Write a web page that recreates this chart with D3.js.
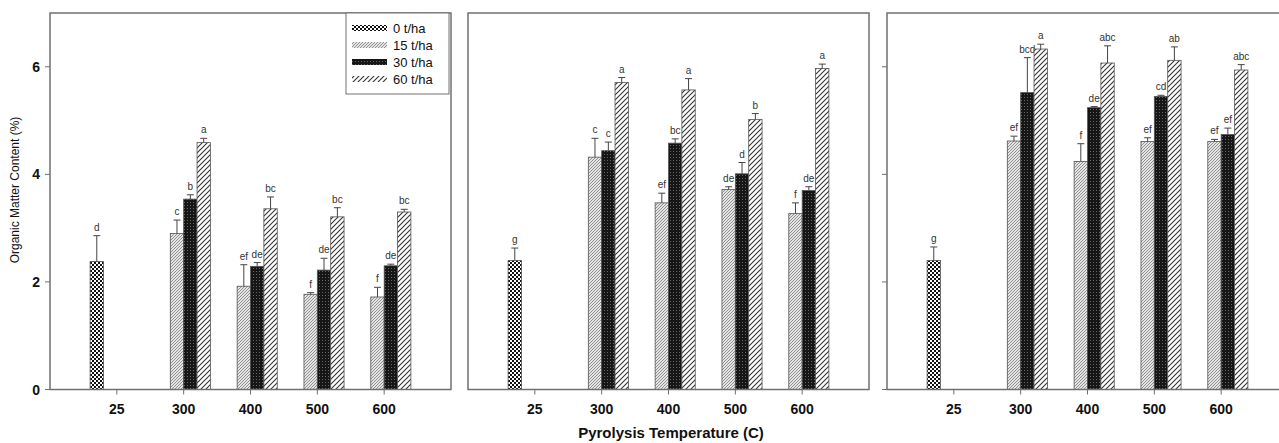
<!DOCTYPE html>
<html>
<head>
<meta charset="utf-8">
<script src="https://cdn.jsdelivr.net/npm/d3@7"></script>
<style>
  body { margin: 0; background: #fff; }
  svg { display: block; font-family: "Liberation Sans", Arial, sans-serif; }
</style>
</head>
<body>
<svg id="chart" width="1279" height="443"></svg>
<script>
// categories
const temps = ["25", "300", "400", "500", "600"];
const rates = ["0 t/ha", "15 t/ha", "30 t/ha", "60 t/ha"];
const yTicks = [0, 2, 4, 6];

// means per temperature, one entry per rate (null = no bar)
const meanA = [[2.38, null, null, null], [null, 2.90, 3.54, 4.59], [null, 1.92, 2.29, 3.36], [null, 1.77, 2.22, 3.21], [null, 1.72, 2.30, 3.30]];
const errA  = [[0.48, 0, 0, 0], [0, 0.25, 0.08, 0.08], [0, 0.40, 0.07, 0.22], [0, 0.03, 0.22, 0.17], [0, 0.18, 0.03, 0.05]];
const letA  = [["d"], [null, "c", "b", "a"], [null, "ef", "de", "bc"], [null, "f", "de", "bc"], [null, "f", "de", "bc"]];

const meanB = [[2.40, null, null, null], [null, 4.32, 4.44, 5.71], [null, 3.47, 4.58, 5.57], [null, 3.72, 4.01, 5.02], [null, 3.27, 3.70, 5.97]];
const errB  = [[0.23, 0, 0, 0], [0, 0.35, 0.16, 0.09], [0, 0.18, 0.08, 0.21], [0, 0.05, 0.21, 0.11], [0, 0.20, 0.07, 0.08]];
const letB  = [["g"], [null, "c", "c", "a"], [null, "ef", "bc", "a"], [null, "de", "d", "b"], [null, "f", "de", "a"]];

const meanC = [[2.40, null, null, null], [null, 4.62, 5.52, 6.33], [null, 4.24, 5.24, 6.07], [null, 4.61, 5.45, 6.12], [null, 4.61, 4.74, 5.94]];
const errC  = [[0.25, 0, 0, 0], [0, 0.09, 0.65, 0.09], [0, 0.33, 0.02, 0.32], [0, 0.07, 0.02, 0.25], [0, 0.04, 0.12, 0.10]];
const letC  = [["g"], [null, "ef", "bcd", "a"], [null, "f", "de", "abc"], [null, "ef", "cd", "ab"], [null, "ef", "ef", "abc"]];

const panels = [
  { left: 50, means: meanA, errs: errA, lets: letA, yTicks: true, yLabels: true, legend: true },
  { left: 468, means: meanB, errs: errB, lets: letB, yTicks: false, yLabels: false },
  { left: 887, means: meanC, errs: errC, lets: letC, yTicks: true, yLabels: false }
];

const svg = d3.select("#chart");
const panelW = 401;
const y = d3.scaleLinear().domain([0, 7]).range([389.5, 13]);
const frameColor = "#707070";

// fill patterns
const defs = svg.append("defs");
function pattern(id, w, h) {
  return defs.append("pattern").attr("id", id).attr("patternUnits", "userSpaceOnUse")
    .attr("width", w).attr("height", h);
}
// 0 t/ha: checkerboard
const p0 = pattern("pat0", 4, 4);
p0.append("rect").attr("width", 4).attr("height", 4).attr("fill", "#fff");
p0.append("rect").attr("width", 2).attr("height", 2).attr("fill", "#111");
p0.append("rect").attr("x", 2).attr("y", 2).attr("width", 2).attr("height", 2).attr("fill", "#111");
// 15 t/ha: fine grey diagonals
const p1 = pattern("pat1", 3, 3);
p1.append("rect").attr("width", 3).attr("height", 3).attr("fill", "#e4e4e4");
p1.append("path").attr("d", "M0,3 L3,0 M-1,1 L1,-1 M2,4 L4,2").attr("stroke", "#888").attr("stroke-width", 0.9);
// 30 t/ha: dense dark crosshatch
const p2 = pattern("pat2", 3, 3);
p2.append("rect").attr("width", 3).attr("height", 3).attr("fill", "#161616");
p2.append("rect").attr("x", 1).attr("y", 1).attr("width", 1).attr("height", 1).attr("fill", "#666");
// 60 t/ha: open diagonals
const p3 = pattern("pat3", 5, 5);
p3.append("rect").attr("width", 5).attr("height", 5).attr("fill", "#fff");
p3.append("path").attr("d", "M0,5 L5,0 M-1,1 L1,-1 M4,6 L6,4").attr("stroke", "#333").attr("stroke-width", 1.1);
const fills = ["url(#pat0)", "url(#pat1)", "url(#pat2)", "url(#pat3)"];

panels.forEach(p => {
  const x = d3.scaleLinear().domain([0, 6]).range([p.left, p.left + panelW]);
  const unit = x(1) - x(0);
  const g = svg.append("g");

  // bars, error bars, letters
  temps.forEach((t, i) => {
    p.means[i].forEach((v, j) => {
      if (v == null) return;
      const bx = x(i + 1) - 0.4 * unit + j * 0.2 * unit;
      const bw = 0.2 * unit;
      g.append("rect")
        .attr("x", bx).attr("y", y(v))
        .attr("width", bw).attr("height", y(0) - y(v))
        .attr("fill", fills[j]).attr("stroke", "#555").attr("stroke-width", 0.8);
      const top = v + p.errs[i][j];
      const cx = bx + bw / 2;
      g.append("line").attr("x1", cx).attr("x2", cx).attr("y1", y(v)).attr("y2", y(top))
        .attr("stroke", "#444").attr("stroke-width", 1);
      g.append("line").attr("x1", cx - 3.5).attr("x2", cx + 3.5).attr("y1", y(top)).attr("y2", y(top))
        .attr("stroke", "#444").attr("stroke-width", 1);
      g.append("text").attr("x", cx).attr("y", y(top) - 5)
        .attr("text-anchor", "middle").attr("font-size", 10).attr("fill", "#333")
        .text(p.lets[i][j]);
    });
  });

  // frame
  g.append("rect").attr("x", p.left).attr("y", 13).attr("width", panelW).attr("height", y(0) - 13)
    .attr("fill", "none").attr("stroke", frameColor).attr("stroke-width", 1.5);

  // x ticks
  temps.forEach((t, i) => {
    g.append("line").attr("x1", x(i + 1)).attr("x2", x(i + 1)).attr("y1", y(0)).attr("y2", y(0) + 5)
      .attr("stroke", frameColor).attr("stroke-width", 1);
    g.append("text").attr("x", x(i + 1)).attr("y", 414)
      .attr("text-anchor", "middle").attr("font-size", 14).attr("font-weight", "bold").attr("fill", "#111")
      .text(t);
  });

  // y ticks
  if (p.yTicks) {
    yTicks.forEach(v => {
      g.append("line").attr("x1", p.left - 5).attr("x2", p.left).attr("y1", y(v)).attr("y2", y(v))
        .attr("stroke", frameColor).attr("stroke-width", 1);
      if (p.yLabels) {
        g.append("text").attr("x", p.left - 10).attr("y", y(v) + 5)
          .attr("text-anchor", "end").attr("font-size", 14).attr("font-weight", "bold").attr("fill", "#111")
          .text(v);
      }
    });
  }

  // legend
  if (p.legend) {
    const lg = g.append("g");
    lg.append("rect").attr("x", 346).attr("y", 13).attr("width", 103).attr("height", 81)
      .attr("fill", "#fff").attr("stroke", frameColor).attr("stroke-width", 1);
    rates.forEach((r, j) => {
      const ry = 28 + j * 17;
      lg.append("rect").attr("x", 352).attr("y", ry - 3).attr("width", 35).attr("height", 6)
        .attr("fill", fills[j]);
      lg.append("text").attr("x", 393).attr("y", ry + 5).attr("font-size", 13).attr("fill", "#111").text(r);
    });
  }
});

// axis titles
svg.append("text").attr("transform", "translate(19,190) rotate(-90)")
  .attr("text-anchor", "middle").attr("font-size", 12).attr("fill", "#111")
  .text("Organic Matter Content (%)");
svg.append("text").attr("x", 671).attr("y", 438)
  .attr("text-anchor", "middle").attr("font-size", 15).attr("font-weight", "bold").attr("fill", "#111")
  .text("Pyrolysis Temperature (C)");
</script>
</body>
</html>
